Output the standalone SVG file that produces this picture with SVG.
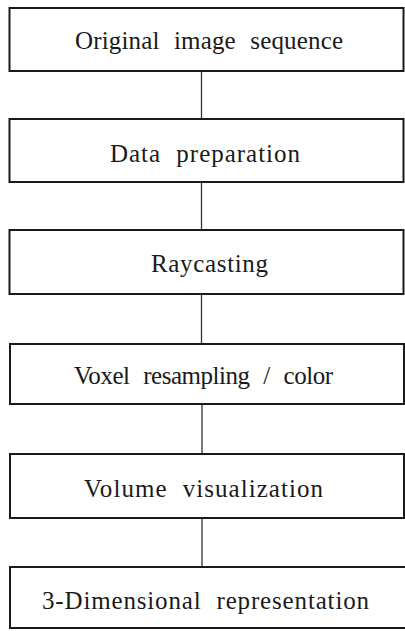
<svg xmlns="http://www.w3.org/2000/svg" width="405" height="631" viewBox="0 0 405 631">
<style>
.box{fill:#fff;stroke:#1a1a1a;stroke-width:2}
.lbl{font-size:25px;fill:#1a1a1a;word-spacing:8px}
.conn{stroke:#333;stroke-width:1.3;fill:none}
</style>
<rect width="405" height="631" fill="#fff"/>
<g id="connectors">
<line class="conn" x1="201.5" y1="71" x2="201.5" y2="119"/>
<line class="conn" x1="201.5" y1="182" x2="201.5" y2="230"/>
<line class="conn" x1="201.5" y1="294" x2="201.5" y2="344"/>
<line class="conn" x1="202" y1="404" x2="202" y2="454"/>
<line class="conn" x1="202" y1="518" x2="202" y2="567"/>
</g>
<g font-family="'Liberation Serif', 'Times New Roman', 'DejaVu Serif', serif">
<g id="n1"><rect class="box" x="9.5" y="8" width="394" height="63"/><text class="lbl" x="75" y="49" textLength="268" lengthAdjust="spacing">Original image sequence</text></g>
<g id="n2"><rect class="box" x="9.5" y="119" width="394" height="63"/><text class="lbl" x="110" y="162" textLength="190" lengthAdjust="spacing">Data preparation</text></g>
<g id="n3"><rect class="box" x="9.5" y="230" width="394" height="64"/><text class="lbl" x="151" y="272" textLength="117" lengthAdjust="spacing">Raycasting</text></g>
<g id="n4"><rect class="box" x="10" y="344" width="394" height="60"/><text class="lbl" x="74" y="384" textLength="259" lengthAdjust="spacing">Voxel resampling / color</text></g>
<g id="n5"><rect class="box" x="10" y="454" width="394" height="64"/><text class="lbl" x="84" y="497" textLength="239" lengthAdjust="spacing">Volume visualization</text></g>
<g id="n6"><rect class="box" x="10" y="567" width="398" height="61"/><text class="lbl" x="42" y="609" textLength="327" lengthAdjust="spacing">3-Dimensional representation</text></g>
</g>
</svg>
